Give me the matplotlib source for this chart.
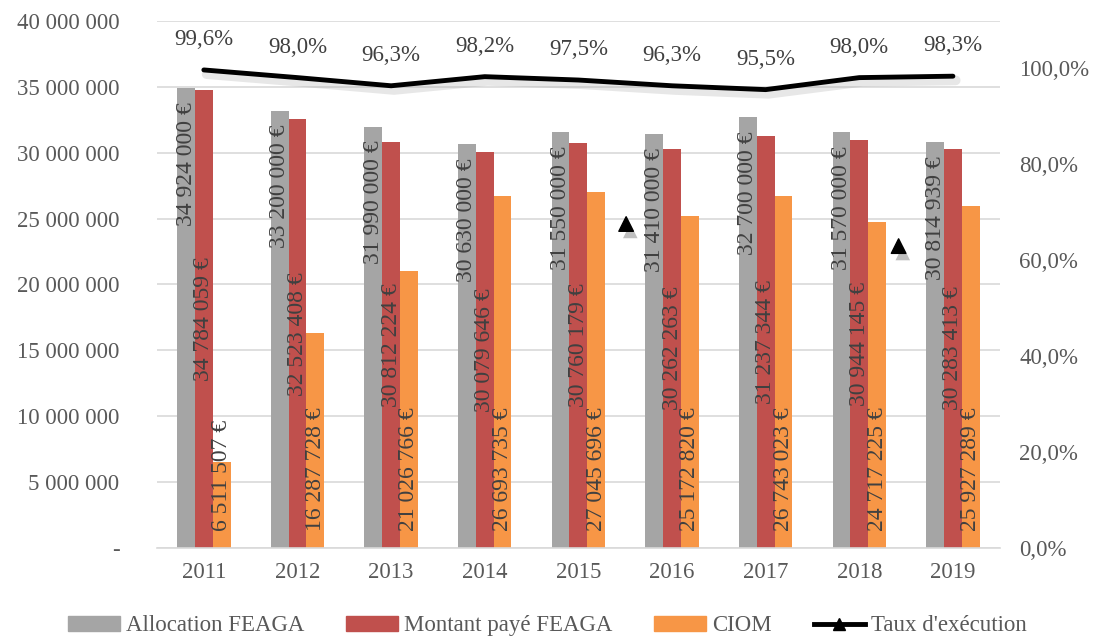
import matplotlib.pyplot as plt
import matplotlib.patheffects as pe
import numpy as np
from matplotlib.lines import Line2D
from matplotlib.patches import Patch
from matplotlib.ticker import FuncFormatter

years = ["2011", "2012", "2013", "2014", "2015", "2016", "2017", "2018", "2019"]
allocation = [34924000, 33200000, 31990000, 30630000, 31550000,
              31410000, 32700000, 31570000, 30814939]
montant = [34784059, 32523408, 30812224, 30079646, 30760179,
           30262263, 31237344, 30944145, 30283413]
ciom = [6511507, 16287728, 21026766, 26693735, 27045696,
        25172820, 26743023, 24717225, 25927289]
taux = [0.996, 0.980, 0.963, 0.982, 0.975, 0.963, 0.955, 0.980, 0.983]
# two loose triangle markers floating in the original chart
stray_x = [4.51, 7.42]
stray_y = [0.675, 0.629]

GREY, RED, ORANGE = "#a5a5a5", "#c0504d", "#f79646"
TXT, LBL = "#404040", "#595959"
FONT = "Liberation Serif"
FS = 16.5

plt.rcParams['font.family'] = FONT


def euro(v):
  return f"{v:,.0f}".replace(",", " ") + " €"


fig = plt.figure(figsize=(10.95, 6.36), dpi=100)
ax = fig.add_axes([0.1434, 0.1384, 0.7696, 0.8286])
x = np.arange(len(years))
w = 0.19

ax.bar(x - w, allocation, w, color=GREY, zorder=2)
ax.bar(x, montant, w, color=RED, zorder=2)
ax.bar(x + w, ciom, w, color=ORANGE, zorder=2)

for xi, v in zip(x, allocation):
  ax.annotate(euro(v), (xi - w, v), xytext=(0, -10), textcoords="offset points",
              rotation=90, ha="center", va="top", fontsize=FS + 0.5, color=TXT, zorder=5)
for xi, v in zip(x, montant):
  ax.text(xi, v / 2, euro(v), rotation=90, ha="center", va="center",
          fontsize=FS + 0.5, color=TXT, zorder=5)
for xi, v in zip(x, ciom):
  ax.annotate(euro(v), (xi + w, 0), xytext=(0, 12), textcoords="offset points",
              rotation=90, ha="center", va="bottom", fontsize=FS + 0.5, color=TXT, zorder=5)

ax.set_xlim(-0.5, len(years) - 0.5)
ax.set_ylim(0, 40e6)
ax.set_yticks(np.arange(0, 40e6 + 1, 5e6))
ax.yaxis.set_major_formatter(FuncFormatter(
    lambda v, p: "-" if v == 0 else f"{v:,.0f}".replace(",", " ")))
ax.set_xticks(x)
ax.set_xticklabels(years)
ax.grid(axis="y", color="#d9d9d9", linewidth=1.2, zorder=0)
ax.tick_params(axis="y", length=0, pad=27, labelsize=FS, labelcolor=LBL)
ax.tick_params(axis="x", length=0, pad=10, labelsize=FS, labelcolor=LBL)
for s in ["top", "left", "right"]:
  ax.spines[s].set_visible(False)
ax.spines["bottom"].set_color("#d9d9d9")
ax.spines["bottom"].set_linewidth(1.2)

ax2 = ax.twinx()
ax2.set_ylim(0, 1.098)
ax2.set_yticks(np.arange(0, 1.01, 0.2))
ax2.yaxis.set_major_formatter(FuncFormatter(
    lambda v, p: f"{v * 100:.1f}%".replace(".", ",")))
ax2.tick_params(axis="y", length=0, pad=14, labelsize=FS, labelcolor=LBL)
for s in ax2.spines.values():
  s.set_visible(False)

shadow = [pe.SimpleLineShadow(offset=(2, -3), shadow_color="#a0a0a0", alpha=0.25,
                              linewidth=7), pe.Normal()]
ax2.plot(x, taux, color="black", linewidth=3.5, solid_capstyle="round",
         path_effects=shadow, zorder=4)
for xi, v in zip(x, taux):
  ax2.annotate(f"{v * 100:.1f}%".replace(".", ","), (xi, v), xytext=(0, 22),
               textcoords="offset points", ha="center", va="center",
               fontsize=FS, color=TXT)
ax2.scatter(stray_x, stray_y, marker="^", s=110, color="black", zorder=4,
            path_effects=[pe.SimplePatchShadow(offset=(3, -5), alpha=0.25), pe.Normal()])

handles = [Patch(color=GREY), Patch(color=RED), Patch(color=ORANGE),
           Line2D([], [], color="black", linewidth=3.5, marker="^", markersize=9)]
labels = ["Allocation FEAGA", "Montant payé FEAGA", "CIOM", "Taux d'exécution"]
fig.legend(handles, labels, loc="center", bbox_to_anchor=(0.5, 0.016), ncol=4,
           frameon=False, fontsize=FS, labelcolor=LBL, handlelength=2.25,
           handleheight=0.6, columnspacing=1.85, handletextpad=0.25)

fig.savefig("out.png", dpi=100)
